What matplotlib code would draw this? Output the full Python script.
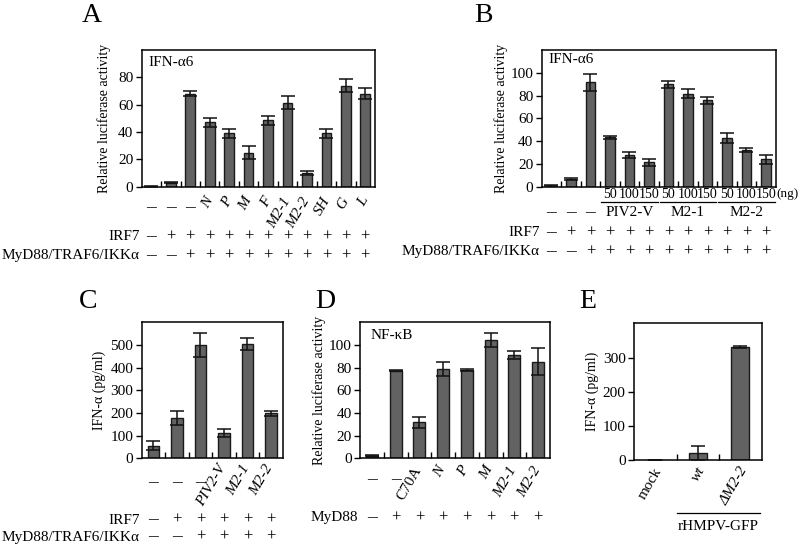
import numpy as np
import matplotlib
matplotlib.use("Agg")
import matplotlib.pyplot as plt
from matplotlib.transforms import blended_transform_factory as btf

plt.rcParams['font.family'] = ['Liberation Serif', 'DejaVu Serif']

# ---------------- data ----------------
a_labels = ["\u2013", "\u2013", "\u2013", "N", "P", "M", "F", "M2-1", "M2-2", "SH", "G", "L"]
a_values = [0.3, 3, 68, 47, 39, 25, 48.5, 61.5, 10.3, 39, 74, 68]
a_errors = [0.2, 0.5, 2, 3.5, 3.5, 4.8, 3, 5, 1.5, 3.5, 4.8, 4]
a_irf7 = ["\u2013", "+", "+", "+", "+", "+", "+", "+", "+", "+", "+", "+"]
a_myd = ["\u2013", "\u2013", "+", "+", "+", "+", "+", "+", "+", "+", "+", "+"]

b_doses = ["", "", "", "50", "100", "150", "50", "100", "150", "50", "100", "150"]
b_groups = ["PIV2-V", "M2-1", "M2-2"]
b_values = [1, 6.5, 91.5, 43.4, 27.9, 21.4, 90, 81.5, 75.7, 42.5, 32.3, 24]
b_errors = [0.3, 0.8, 7.5, 1.5, 2.3, 2.9, 3, 4, 3, 4.4, 1.5, 3.8]
b_irf7 = a_irf7
b_myd = a_myd

c_labels = ["\u2013", "\u2013", "\u2013", "PIV2-V", "M2-1", "M2-2"]
c_values = [56, 180, 500, 111, 504, 199]
c_errors = [20, 31, 53, 19, 27, 10]
c_irf7 = ["\u2013", "+", "+", "+", "+", "+"]
c_myd = ["\u2013", "\u2013", "+", "+", "+", "+"]

d_labels = ["\u2013", "\u2013", "C70A", "N", "P", "M", "M2-1", "M2-2"]
d_values = [2.4, 77.4, 31.8, 79.1, 77.9, 104.1, 91.2, 85.3]
d_errors = [0.3, 0.3, 4.7, 6.2, 0.6, 6.2, 3.8, 11.8]
d_myd = ["\u2013", "+", "+", "+", "+", "+", "+", "+"]

e_labels = ["mock", "wt", "\u0394M2-2"]
e_values = [0, 20.5, 333]
e_errors = [0, 21.5, 3]

W, H = 800, 545
fig = plt.figure(figsize=(8, 5.45), dpi=100)

BAR_COLOR = '#626262'
FS_TICK = 11
FS_SIGN = 12
FS_DASH = 14
FS_YLAB = 10
FS_LETTER = 20
DASH = "\u2013"


def px_ax(x0, x1, ytop, ybot):
    return fig.add_axes([x0 / W, 1 - ybot / H, (x1 - x0) / W, (ybot - ytop) / H])


def fy(ypx):
    return 1 - ypx / H


def draw_bars(ax, values, errors, ylim, yticks, width=0.5):
    n = len(values)
    x = np.arange(n)
    ax.bar(x, values, width=width, color=BAR_COLOR, edgecolor='#1a1a1a', linewidth=1.0, zorder=2)
    ax.errorbar(x, values, yerr=errors, fmt='none', ecolor='#111111', elinewidth=1.1,
                capsize=5, capthick=1.1, zorder=3)
    ax.set_xlim(-0.5, n - 0.5)
    ax.set_ylim(*ylim)
    ax.set_yticks(yticks)
    ax.set_xticks([])
    ax.set_xticks(np.arange(0.5, n - 1, 1), minor=True)
    ax.tick_params(axis='y', direction='out', length=4, width=1.0, labelsize=FS_TICK, pad=2)
    ax.tick_params(axis='x', which='minor', direction='in', length=4, width=1.0, top=False)
    for s in ax.spines.values():
        s.set_linewidth(1.1)
    return x


def put_sign(ax, tr, x, ypx, s):
    fs = FS_DASH if s == DASH else FS_SIGN
    ax.text(x, fy(ypx), s, transform=tr, ha='center', va='center', fontsize=fs)


def rot_labels(ax, labels, ytop_px, dx, italic_set, rot=60, dash_y=None, fs=FS_TICK):
    tr = btf(ax.transData, fig.transFigure)
    for i, lab in enumerate(labels):
        if lab == DASH:
            put_sign(ax, tr, i, dash_y, lab)
        else:
            style = 'italic' if lab in italic_set else 'normal'
            ax.text(i + dx, fy(ytop_px), lab, transform=tr, ha='right', va='top',
                    rotation=rot, fontsize=fs, style=style)


def sign_row(ax, signs, ypx, name, name_xpx, fs=FS_TICK):
    tr = btf(ax.transData, fig.transFigure)
    for i, s in enumerate(signs):
        put_sign(ax, tr, i, ypx, s)
    fig.text(name_xpx / W, fy(ypx), name, ha='right', va='center', fontsize=fs)


# ---------------- Panel A ----------------
axA = px_ax(141.7, 375, 50, 186.7)
draw_bars(axA, a_values, a_errors, (0, 100), [0, 20, 40, 60, 80])
axA.set_ylabel("Relative luciferase activity", fontsize=FS_YLAB, labelpad=5)
axA.text(0.03, 0.905, "IFN-\u03b16", transform=axA.transAxes, ha='left', va='center', fontsize=11)
rot_labels(axA, a_labels, 195, 0.3, set(a_labels), dash_y=208)
sign_row(axA, a_irf7, 237, "IRF7", 140)
sign_row(axA, a_myd, 256, "MyD88/TRAF6/IKK\u03b1", 140)
fig.text(92 / W, fy(16), "A", ha='center', va='center', fontsize=FS_LETTER)

# ---------------- Panel B ----------------
axB = px_ax(541.7, 775.7, 50, 186.7)
draw_bars(axB, b_values, b_errors, (0, 120), [0, 20, 40, 60, 80, 100])
axB.set_ylabel("Relative luciferase activity", fontsize=FS_YLAB, labelpad=2)
axB.text(0.028, 0.927, "IFN-\u03b16", transform=axB.transAxes, ha='left', va='center', fontsize=11)
trB = btf(axB.transData, fig.transFigure)
for i, d in enumerate(b_doses):
    if d:
        axB.text(i, fy(194), d, transform=trB, ha='center', va='center', fontsize=10)
axB.text(11.55, fy(194), "(ng)", transform=trB, ha='left', va='center', fontsize=9.5)
for i in range(3):
    put_sign(axB, trB, i, 213, DASH)
for g, name in enumerate(b_groups):
    start = 3 + 3 * g
    axB.plot([start - 0.45, start + 2.45], [fy(202), fy(202)], transform=trB, color='black',
             lw=0.9, clip_on=False)
    axB.text(start + 1, fy(213), name, transform=trB, ha='center', va='center', fontsize=FS_TICK)
sign_row(axB, b_irf7, 233, "IRF7", 540)
sign_row(axB, b_myd, 252, "MyD88/TRAF6/IKK\u03b1", 540)
fig.text(483 / W, fy(16), "B", ha='center', va='center', fontsize=FS_LETTER)

# ---------------- Panel C ----------------
axC = px_ax(141.7, 282.7, 321.7, 458.3)
draw_bars(axC, c_values, c_errors, (0, 604), [0, 100, 200, 300, 400, 500])
axC.set_ylabel("IFN-\u03b1 (pg/ml)", fontsize=FS_YLAB, labelpad=3)
rot_labels(axC, c_labels, 462, 0.2, {"PIV2-V", "M2-1", "M2-2"}, dash_y=483)
sign_row(axC, c_irf7, 520, "IRF7", 140)
sign_row(axC, c_myd, 537, "MyD88/TRAF6/IKK\u03b1", 140)
fig.text(88 / W, fy(302), "C", ha='center', va='center', fontsize=FS_LETTER)

# ---------------- Panel D ----------------
axD = px_ax(360, 550, 321.7, 458.3)
draw_bars(axD, d_values, d_errors, (0, 120.6), [0, 20, 40, 60, 80, 100])
axD.set_ylabel("Relative luciferase activity", fontsize=FS_YLAB, labelpad=2)
axD.text(0.053, 0.9, "NF-\u03baB", transform=axD.transAxes, ha='left', va='center', fontsize=11)
rot_labels(axD, d_labels, 464, 0.2, {"N", "P", "M", "M2-1", "M2-2"}, dash_y=480)
sign_row(axD, d_myd, 518, "MyD88", 358)
fig.text(325 / W, fy(302), "D", ha='center', va='center', fontsize=FS_LETTER)

# ---------------- Panel E ----------------
axE = px_ax(634, 761.7, 323.3, 460.3)
draw_bars(axE, e_values, e_errors, (0, 401), [0, 100, 200, 300], width=0.42)
axE.set_ylabel("IFN-\u03b1 (pg/ml)", fontsize=FS_YLAB, labelpad=3)
rot_labels(axE, e_labels, 465, 0.22, {"wt", "\u0394M2-2"}, dash_y=480)
trE = btf(axE.transData, fig.transFigure)
axE.plot([0.51, 2.46], [fy(513), fy(513)], transform=trE, color='black', lw=0.9, clip_on=False)
axE.text(1.48, fy(527), "rHMPV-GFP", transform=trE, ha='center', va='center', fontsize=11)
fig.text(588 / W, fy(302), "E", ha='center', va='center', fontsize=FS_LETTER)

fig.savefig("out.png", dpi=100)
